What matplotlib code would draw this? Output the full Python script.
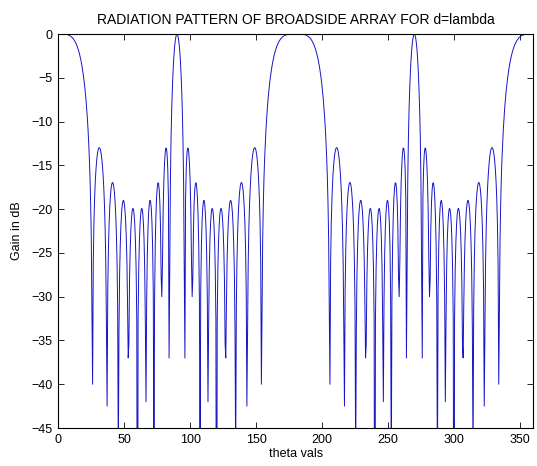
import numpy as np
import matplotlib
matplotlib.use("Agg")
import matplotlib.pyplot as plt

theta_step = 0.5

gain_0_90 = [
    0, 0, 0, 0, 0, 0, 0, -0.01, -0.01, -0.01,
    -0.02, -0.03, -0.04, -0.06, -0.08, -0.1, -0.14, -0.17, -0.22, -0.27,
    -0.33, -0.4, -0.48, -0.58, -0.69, -0.81, -0.95, -1.11, -1.29, -1.49,
    -1.71, -1.96, -2.24, -2.55, -2.9, -3.28, -3.71, -4.19, -4.72, -5.3,
    -5.96, -6.7, -7.54, -8.48, -9.57, -10.81, -12.31, -14.07, -16.24, -19.16,
    -23.36, -31.4, -40.0, -26.2, -21.6, -18.85, -16.97, -15.59, -14.59, -13.87,
    -13.38, -13.08, -12.97, -13.03, -13.26, -13.68, -14.28, -15.12, -16.21, -17.65,
    -19.55, -22.18, -26.1, -33.6, -42.5, -29.3, -24.51, -21.69, -19.82, -18.54,
    -17.68, -17.17, -16.95, -17.02, -17.37, -18.03, -19.05, -20.52, -22.61, -25.75,
    -31.13, -49.0, -33.79, -27.31, -23.97, -21.78, -20.37, -19.51, -19.07, -19.01,
    -19.32, -20.04, -21.22, -23.06, -25.83, -30.8, -37.0, -35.43, -28.2, -24.61,
    -22.41, -21.02, -20.21, -19.9, -20.03, -20.64, -21.82, -23.74, -26.82, -32.6,
    -80.0, -32.56, -26.73, -23.62, -21.7, -20.54, -19.98, -19.94, -20.43, -21.53,
    -23.45, -26.71, -33.18, -42.0, -30.32, -25.12, -22.21, -20.43, -19.41, -19.0,
    -19.16, -19.93, -21.49, -24.26, -29.41, -51.3, -30.49, -24.16, -20.82, -18.77,
    -17.56, -17.0, -17.04, -17.75, -19.28, -22.1, -27.86, -30.0, -25.94, -20.2,
    -16.95, -14.91, -13.66, -13.04, -13.05, -13.75, -15.4, -18.73, -37.0, -27.15,
    -16.78, -11.82, -8.54, -6.14, -4.3, -2.88, -1.79, -0.99, -0.44, -0.11,
    0,
]

gain_90_180 = [
    -0.11, -0.44, -0.99, -1.79, -2.88, -4.3, -6.14, -8.54, -11.82, -16.78,
    -27.15, -37.0, -18.73, -15.4, -13.75, -13.05, -13.04, -13.66, -14.91, -16.95,
    -20.2, -25.94, -30.0, -27.86, -22.1, -19.28, -17.75, -17.04, -17.0, -17.56,
    -18.77, -20.82, -24.16, -30.49, -51.3, -29.41, -24.26, -21.49, -19.93, -19.16,
    -19.0, -19.41, -20.43, -22.21, -25.12, -30.32, -42.0, -33.18, -26.71, -23.45,
    -21.53, -20.43, -19.94, -19.98, -20.54, -21.7, -23.62, -26.73, -32.56, -80.0,
    -32.6, -26.82, -23.74, -21.82, -20.64, -20.03, -19.9, -20.21, -21.02, -22.41,
    -24.61, -28.2, -35.43, -37.0, -30.8, -25.83, -23.06, -21.22, -20.04, -19.32,
    -19.01, -19.07, -19.51, -20.37, -21.78, -23.97, -27.31, -33.79, -49.0, -31.13,
    -25.75, -22.61, -20.52, -19.05, -18.03, -17.37, -17.02, -16.95, -17.17, -17.68,
    -18.54, -19.82, -21.69, -24.51, -29.3, -42.5, -33.6, -26.1, -22.18, -19.55,
    -17.65, -16.21, -15.12, -14.28, -13.68, -13.26, -13.03, -12.97, -13.08, -13.38,
    -13.87, -14.59, -15.59, -16.97, -18.85, -21.6, -26.2, -40.0, -31.4, -23.36,
    -19.16, -16.24, -14.07, -12.31, -10.81, -9.57, -8.48, -7.54, -6.7, -5.96,
    -5.3, -4.72, -4.19, -3.71, -3.28, -2.9, -2.55, -2.24, -1.96, -1.71,
    -1.49, -1.29, -1.11, -0.95, -0.81, -0.69, -0.58, -0.48, -0.4, -0.33,
    -0.27, -0.22, -0.17, -0.14, -0.1, -0.08, -0.06, -0.04, -0.03, -0.02,
    -0.01, -0.01, -0.01, 0, 0, 0, 0, 0, 0, 0,
]

gain_180_270 = [
    0, 0, 0, 0, 0, 0, -0.01, -0.01, -0.01, -0.02,
    -0.03, -0.04, -0.06, -0.08, -0.1, -0.14, -0.17, -0.22, -0.27, -0.33,
    -0.4, -0.48, -0.58, -0.69, -0.81, -0.95, -1.11, -1.29, -1.49, -1.71,
    -1.96, -2.24, -2.55, -2.9, -3.28, -3.71, -4.19, -4.72, -5.3, -5.96,
    -6.7, -7.54, -8.48, -9.57, -10.81, -12.31, -14.07, -16.24, -19.16, -23.36,
    -31.4, -40.0, -26.2, -21.6, -18.85, -16.97, -15.59, -14.59, -13.87, -13.38,
    -13.08, -12.97, -13.03, -13.26, -13.68, -14.28, -15.12, -16.21, -17.65, -19.55,
    -22.18, -26.1, -33.6, -42.5, -29.3, -24.51, -21.69, -19.82, -18.54, -17.68,
    -17.17, -16.95, -17.02, -17.37, -18.03, -19.05, -20.52, -22.61, -25.75, -31.13,
    -49.0, -33.79, -27.31, -23.97, -21.78, -20.37, -19.51, -19.07, -19.01, -19.32,
    -20.04, -21.22, -23.06, -25.83, -30.8, -37.0, -35.43, -28.2, -24.61, -22.41,
    -21.02, -20.21, -19.9, -20.03, -20.64, -21.82, -23.74, -26.82, -32.6, -80.0,
    -32.56, -26.73, -23.62, -21.7, -20.54, -19.98, -19.94, -20.43, -21.53, -23.45,
    -26.71, -33.18, -42.0, -30.32, -25.12, -22.21, -20.43, -19.41, -19.0, -19.16,
    -19.93, -21.49, -24.26, -29.41, -51.3, -30.49, -24.16, -20.82, -18.77, -17.56,
    -17.0, -17.04, -17.75, -19.28, -22.1, -27.86, -30.0, -25.94, -20.2, -16.95,
    -14.91, -13.66, -13.04, -13.05, -13.75, -15.4, -18.73, -37.0, -27.15, -16.78,
    -11.82, -8.54, -6.14, -4.3, -2.88, -1.79, -0.99, -0.44, -0.11, 0,
]

gain_270_360 = [
    -0.11, -0.44, -0.99, -1.79, -2.88, -4.3, -6.14, -8.54, -11.82, -16.78,
    -27.15, -37.0, -18.73, -15.4, -13.75, -13.05, -13.04, -13.66, -14.91, -16.95,
    -20.2, -25.94, -30.0, -27.86, -22.1, -19.28, -17.75, -17.04, -17.0, -17.56,
    -18.77, -20.82, -24.16, -30.49, -51.3, -29.41, -24.26, -21.49, -19.93, -19.16,
    -19.0, -19.41, -20.43, -22.21, -25.12, -30.32, -42.0, -33.18, -26.71, -23.45,
    -21.53, -20.43, -19.94, -19.98, -20.54, -21.7, -23.62, -26.73, -32.56, -80.0,
    -32.6, -26.82, -23.74, -21.82, -20.64, -20.03, -19.9, -20.21, -21.02, -22.41,
    -24.61, -28.2, -35.43, -37.0, -30.8, -25.83, -23.06, -21.22, -20.04, -19.32,
    -19.01, -19.07, -19.51, -20.37, -21.78, -23.97, -27.31, -33.79, -49.0, -31.13,
    -25.75, -22.61, -20.52, -19.05, -18.03, -17.37, -17.02, -16.95, -17.17, -17.68,
    -18.54, -19.82, -21.69, -24.51, -29.3, -42.5, -33.6, -26.1, -22.18, -19.55,
    -17.65, -16.21, -15.12, -14.28, -13.68, -13.26, -13.03, -12.97, -13.08, -13.38,
    -13.87, -14.59, -15.59, -16.97, -18.85, -21.6, -26.2, -40.0, -31.4, -23.36,
    -19.16, -16.24, -14.07, -12.31, -10.81, -9.57, -8.48, -7.54, -6.7, -5.96,
    -5.3, -4.72, -4.19, -3.71, -3.28, -2.9, -2.55, -2.24, -1.96, -1.71,
    -1.49, -1.29, -1.11, -0.95, -0.81, -0.69, -0.58, -0.48, -0.4, -0.33,
    -0.27, -0.22, -0.17, -0.14, -0.1, -0.08, -0.06, -0.04, -0.03, -0.02,
    -0.01, -0.01, -0.01, 0, 0, 0, 0, 0, 0, 0,
]

x_ticks = [0, 50, 100, 150, 200, 250, 300, 350]
y_ticks = [0, -5, -10, -15, -20, -25, -30, -35, -40, -45]

gain = np.array(gain_0_90 + gain_90_180 + gain_180_270 + gain_270_360)
theta = np.arange(len(gain)) * theta_step

plt.rcParams["font.family"] = ["Liberation Sans", "DejaVu Sans"]
plt.rcParams["font.size"] = 9

fig = plt.figure(figsize=(5.37, 4.66), dpi=100)
ax = fig.add_axes([0.1086, 0.0815, 0.884, 0.8455])

ax.plot(theta, gain, color="#1414c8", linewidth=0.7)

ax.set_xlim(0, 360)
ax.set_ylim(-45, 0)
ax.set_xticks(x_ticks)
ax.set_yticks(y_ticks)
ax.tick_params(direction="in", top=True, right=True, length=4, width=0.6,
               labelsize=9, pad=4)
for sp in ax.spines.values():
    sp.set_linewidth(0.8)

ax.set_title("RADIATION PATTERN OF BROADSIDE ARRAY FOR d=lambda",
             fontsize=10, pad=7)
ax.set_xlabel("theta vals", fontsize=9, labelpad=2)
ax.set_ylabel("Gain in dB", fontsize=9, labelpad=6)

fig.savefig("out.png", dpi=100, facecolor="white")
